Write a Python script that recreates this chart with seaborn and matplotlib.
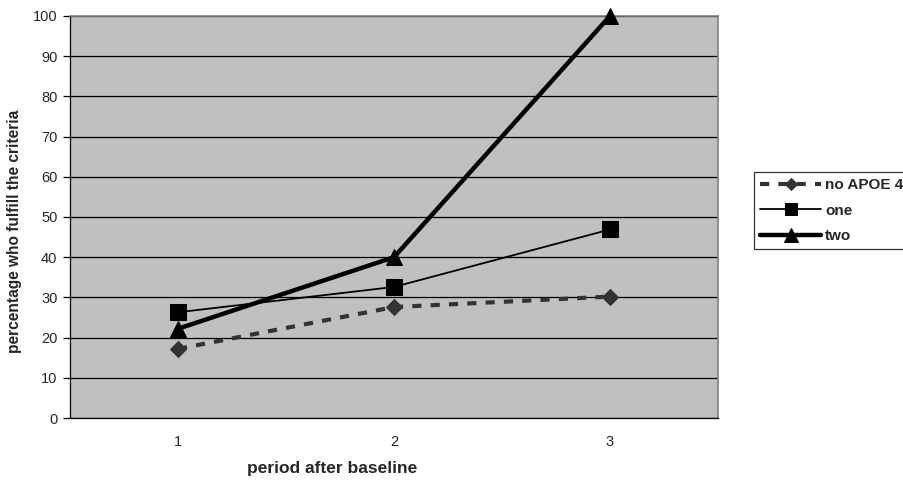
import matplotlib
matplotlib.use("Agg")
import matplotlib.pyplot as plt
import seaborn as sns
import pandas as pd

periods = [1, 2, 3]
no_apoe4 = [17.2, 27.6, 30.2]
one = [26.3, 32.6, 46.9]
two = [22.2, 40.0, 100.0]
y_ticks = list(range(0, 101, 10))

sns.set_style("white")
plt.rcParams["font.family"] = ["Liberation Sans", "DejaVu Sans"]

fig = plt.figure(figsize=(9.04, 4.83), dpi=100)
ax = fig.add_axes([70 / 904, 65 / 483, 648 / 904, 402 / 483])
ax.set_facecolor("#C0C0C0")

series = [
    ("no APOE 4", no_apoe4, dict(color="#333333", linestyle=(0, (2.2, 2.2)), linewidth=3.0,
                                 marker="D", markersize=8, markerfacecolor="#333333",
                                 markeredgecolor="#333333")),
    ("one", one, dict(color="black", linestyle="-", linewidth=1.3,
                      marker="s", markersize=11, markerfacecolor="black",
                      markeredgecolor="black")),
    ("two", two, dict(color="black", linestyle="-", linewidth=3.2,
                      marker="^", markersize=12, markerfacecolor="black",
                      markeredgecolor="black")),
]

for name, vals, style in series:
    df = pd.DataFrame({"period": periods, "value": vals})
    sns.lineplot(data=df, x="period", y="value", ax=ax, label=name, clip_on=False,
                 zorder=3, **style)

ax.set_xlim(0.5, 3.5)
ax.set_ylim(0, 100)
ax.set_yticks(y_ticks)
ax.yaxis.grid(True, color="black", linewidth=0.9)
ax.set_axisbelow(True)

# ticks between categories, labels centred on each category
ax.set_xticks([0.5, 1.5, 2.5, 3.5])
ax.set_xticklabels([])
ax.set_xticks(periods, minor=True)
ax.set_xticklabels([str(p) for p in periods], minor=True, fontsize=10.5)
ax.tick_params(axis="x", which="major", direction="out", length=5, width=0.9, color="black")
ax.tick_params(axis="x", which="minor", length=0, pad=12)
ax.tick_params(axis="y", direction="out", length=5, width=0.9, color="black",
               labelsize=10.5, pad=4, left=True)

for side in ["top", "right"]:
    ax.spines[side].set_color("#808080")
    ax.spines[side].set_linewidth(1.2)
for side in ["left", "bottom"]:
    ax.spines[side].set_color("black")
    ax.spines[side].set_linewidth(0.9)
ax.spines["bottom"].set_zorder(4)

ax.set_xlabel("period after baseline", fontsize=12.5, fontweight="bold")
ax.set_ylabel("percentage who fulfill the criteria", fontsize=11.2, fontweight="bold")
ax.xaxis.set_label_coords(0.404, -0.108)
ax.yaxis.set_label_coords(-0.074, 0.463)

leg = ax.legend(loc="upper left", bbox_to_anchor=(754 / 904, 1 - 172 / 483),
                bbox_transform=fig.transFigure, frameon=True, fancybox=False,
                prop={"weight": "bold", "size": 11}, handlelength=4.0, handletextpad=0.25,
                borderpad=0.4, labelspacing=0.75, borderaxespad=0)
leg.get_frame().set_edgecolor("black")
leg.get_frame().set_linewidth(0.9)
for h in leg.legend_handles:
    h.set_markersize(h.get_markersize() * 0.8)

fig.savefig("out.png", dpi=100)
